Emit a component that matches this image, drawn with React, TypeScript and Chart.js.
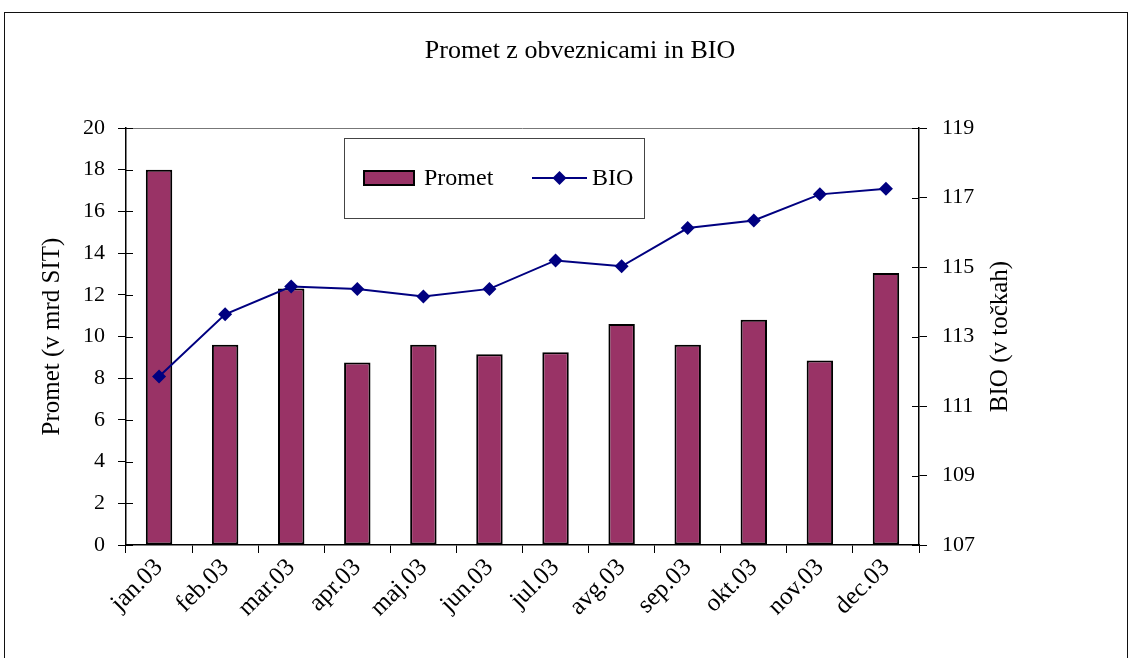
import React, { useEffect, useRef } from "react";
import { Chart, registerables } from "chart.js";

Chart.register(...registerables);

const categories = ["jan.03", "feb.03", "mar.03", "apr.03", "maj.03", "jun.03", "jul.03", "avg.03", "sep.03", "okt.03", "nov.03", "dec.03"];
const prometValues = [18.0, 9.6, 12.3, 8.75, 9.6, 9.15, 9.25, 10.6, 9.6, 10.8, 8.85, 13.05];
const bioValues = [111.85, 113.64, 114.44, 114.37, 114.15, 114.37, 115.19, 115.02, 116.12, 116.34, 117.09, 117.25];
const leftAxisRange = [0, 20, 2];
const rightAxisRange = [107, 119, 2];
const titleText = "Promet z obveznicami in BIO";
const leftAxisTitle = "Promet (v mrd SIT)";
const rightAxisTitle = "BIO (v točkah)";
const seriesNames = ["Promet", "BIO"];

const FONT = "'Liberation Serif', 'Times New Roman', serif";
const BAR_COLOR = "#993366";
const LINE_COLOR = "#000080";

const decorPlugin = {
  id: "decor",
  afterDraw(chart: any) {
    const ctx = chart.ctx;
    const area = chart.chartArea;
    ctx.save();
    // title
    ctx.fillStyle = "#000";
    ctx.font = `26px ${FONT}`;
    ctx.textAlign = "center";
    ctx.textBaseline = "middle";
    ctx.fillText(titleText, 580, 51);

    // plot area top border
    ctx.strokeStyle = "#777";
    ctx.lineWidth = 1;
    ctx.beginPath();
    ctx.moveTo(area.left, Math.round(area.top) + 0.5);
    ctx.lineTo(area.right, Math.round(area.top) + 0.5);
    ctx.stroke();

    // inner tick marks
    ctx.strokeStyle = "#000";
    const yl = chart.scales.y;
    const yr = chart.scales.y1;
    ctx.beginPath();
    yl.ticks.forEach((t: any) => {
      const py = Math.round(yl.getPixelForValue(t.value)) + 0.5;
      ctx.moveTo(area.left, py);
      ctx.lineTo(area.left + 7, py);
    });
    yr.ticks.forEach((t: any) => {
      const py = Math.round(yr.getPixelForValue(t.value)) + 0.5;
      ctx.moveTo(area.right, py);
      ctx.lineTo(area.right - 7, py);
    });
    ctx.stroke();

    // right axis title
    ctx.save();
    ctx.translate(1000, (area.top + area.bottom) / 2);
    ctx.rotate(-Math.PI / 2);
    ctx.font = `25px ${FONT}`;
    ctx.textAlign = "center";
    ctx.textBaseline = "middle";
    ctx.fillStyle = "#000";
    ctx.fillText(rightAxisTitle, 0, 0);
    ctx.restore();

    // legend
    const lx = 344.5, ly = 138.5, lw = 300, lh = 80;
    ctx.fillStyle = "#fff";
    ctx.fillRect(lx, ly, lw, lh);
    ctx.strokeStyle = "#444";
    ctx.lineWidth = 1;
    ctx.strokeRect(lx, ly, lw, lh);
    const cy = 178;
    ctx.fillStyle = BAR_COLOR;
    ctx.fillRect(364, cy - 7, 50, 14);
    ctx.strokeStyle = "#000";
    ctx.lineWidth = 2;
    ctx.strokeRect(364, cy - 7, 50, 14);
    ctx.fillStyle = "#000";
    ctx.font = `24px ${FONT}`;
    ctx.textAlign = "left";
    ctx.textBaseline = "middle";
    ctx.fillText(seriesNames[0], 424, cy + 1);
    ctx.strokeStyle = LINE_COLOR;
    ctx.lineWidth = 2;
    ctx.beginPath();
    ctx.moveTo(532, cy);
    ctx.lineTo(587, cy);
    ctx.stroke();
    ctx.fillStyle = LINE_COLOR;
    ctx.beginPath();
    ctx.moveTo(559.5, cy - 7);
    ctx.lineTo(566.5, cy);
    ctx.lineTo(559.5, cy + 7);
    ctx.lineTo(552.5, cy);
    ctx.closePath();
    ctx.fill();
    ctx.fillStyle = "#000";
    ctx.fillText(seriesNames[1], 592, cy + 1);
    ctx.restore();
  },
};

export default function App() {
  const ref = useRef<HTMLCanvasElement | null>(null);
  useEffect(() => {
    if (!ref.current) return;
    const tickFont = { family: FONT, size: 22 };
    const chart = new Chart(ref.current, {
      type: "bar",
      data: {
        labels: categories,
        datasets: [
          {
            type: "line",
            label: seriesNames[1],
            data: bioValues,
            yAxisID: "y1",
            borderColor: LINE_COLOR,
            backgroundColor: LINE_COLOR,
            borderWidth: 2,
            pointStyle: "rectRot",
            pointRadius: 7,
            pointBackgroundColor: LINE_COLOR,
            pointBorderColor: LINE_COLOR,
            pointBorderWidth: 0,
            tension: 0,
            order: 0,
          } as any,
          {
            type: "bar",
            label: seriesNames[0],
            data: prometValues,
            yAxisID: "y",
            backgroundColor: BAR_COLOR,
            borderColor: "#000",
            borderWidth: 2,
            borderSkipped: false,
            barPercentage: 0.4,
            categoryPercentage: 1,
            order: 1,
          },
        ],
      },
      options: {
        responsive: false,
        animation: false,
        events: [],
        layout: { padding: { top: 128, left: 0, right: 0, bottom: 0 } },
        plugins: {
          legend: { display: false },
          title: { display: false },
          tooltip: { enabled: false },
        },
        scales: {
          x: {
            grid: { offset: true, drawOnChartArea: false, drawTicks: true, tickLength: 8, color: "#000" },
            border: { display: true, color: "#000", width: 1.5 },
            ticks: { font: { family: FONT, size: 25 }, color: "#000", minRotation: 45, maxRotation: 45, autoSkip: false, padding: 0 },
            afterFit: (s: any) => { s.height = 113; },
          },
          y: {
            position: "left",
            min: leftAxisRange[0],
            max: leftAxisRange[1],
            grid: { drawOnChartArea: false, drawTicks: true, tickLength: 8, color: "#000" },
            border: { display: true, color: "#000", width: 1.5 },
            ticks: { stepSize: leftAxisRange[2], font: tickFont, color: "#000", padding: 13 },
            title: { display: true, text: leftAxisTitle, font: { family: FONT, size: 25 }, color: "#000", padding: { top: 37, bottom: 0 } },
            afterFit: (s: any) => { s.width = 126; },
          },
          y1: {
            position: "right",
            min: rightAxisRange[0],
            max: rightAxisRange[1],
            grid: { drawOnChartArea: false, drawTicks: true, tickLength: 8, color: "#000" },
            border: { display: true, color: "#000", width: 1.5 },
            ticks: { stepSize: rightAxisRange[2], font: tickFont, color: "#000", padding: 15 },
            afterFit: (s: any) => { s.width = 211; },
          },
        },
      } as any,
      plugins: [decorPlugin],
    });
    return () => chart.destroy();
  }, []);

  return (
    <div style={{ position: "fixed", left: 0, top: 0, width: 1130, height: 658, background: "#fff", overflow: "hidden" }}>
      <div style={{ position: "absolute", left: 4, top: 12, width: 1122, height: 700, border: "1px solid #111" }} />
      <canvas ref={ref} width={1130} height={658} style={{ position: "absolute", left: 0, top: 0, display: "block" }} />
    </div>
  );
}
